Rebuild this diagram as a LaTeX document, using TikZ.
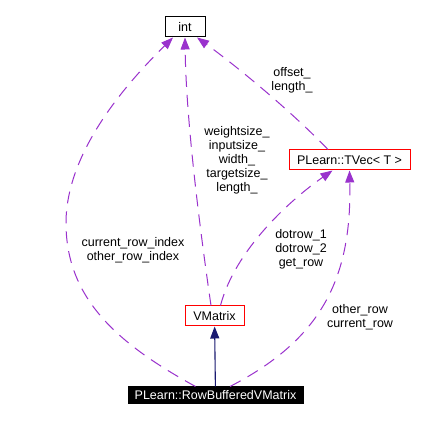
\documentclass[tikz,border=0pt]{standalone}
\usepackage{fontspec}
\setmainfont{Liberation Sans}
\usetikzlibrary{arrows.meta}
\definecolor{edgepurple}{HTML}{9A32CD}
\definecolor{inhnavy}{HTML}{191970}
\begin{document}
\begin{tikzpicture}[x=1pt,y=-1pt,
  lbl/.style={font=\fontsize{12.5}{14}\selectfont, align=center, inner sep=0pt},
  box/.style={draw, line width=1pt, inner sep=0pt, minimum height=20pt, font=\fontsize{12.5}{14}\selectfont},
  redbox/.style={box, draw=red},
  dep/.style={draw=edgepurple, line width=1pt, dash pattern=on 12pt off 8pt, -{Triangle[length=12pt,width=9pt]}},
  inh/.style={draw=inhnavy, line width=1.1pt, -{Triangle[length=12pt,width=9pt]}}
]
\useasboundingbox (0,0) rectangle (432,422);
\fill[white] (0,0) rectangle (432,422);

\node[box, draw=black, minimum width=40pt] (int) at (185,27) {int};
\node[redbox, minimum width=121pt] (tv) at (349.5,160) {PLearn::TVec< T >};
\node[redbox, minimum width=59pt] (vm) at (214.5,316) {VMatrix};
\node[box, fill=black, text=white, minimum width=175pt, minimum height=17pt] (rb) at (215.5,395.5) {PLearn::RowBufferedVMatrix};

\draw[inh] (rb) -- (vm);

\draw[dep] ([xshift=-20pt]rb.north) .. controls (120,345) and (66,300) .. (66,223)
  .. controls (66,150) and (130,80) .. ([xshift=-12pt]int.south);
\draw[dep] ([xshift=-3.5pt]vm.north) .. controls (200,230) and (186,120) .. (int.south);
\draw[dep] ([xshift=-21.5pt]tv.north) .. controls (290,110) and (235,65) .. ([xshift=12pt]int.south);
\draw[dep] ([xshift=6pt]vm.north) .. controls (235,250) and (290,200) .. ([xshift=-17pt]tv.south);
\draw[dep] ([xshift=14.5pt]rb.north) .. controls (320,340) and (352,280) .. (tv.south);

\node[lbl] (l1) at (133,250) {current\_row\_index\\other\_row\_index};
\node[lbl] (l2) at (237,160) {weightsize\_\\inputsize\_\\width\_\\targetsize\_\\length\_};
\node[lbl] (l3) at (292,80) {offset\_\\length\_};
\node[lbl] (l4) at (301,249.5) {dotrow\_1\\dotrow\_2\\get\_row};
\node[lbl] (l5) at (360,317) {other\_row\\current\_row};
\end{tikzpicture}
\end{document}
